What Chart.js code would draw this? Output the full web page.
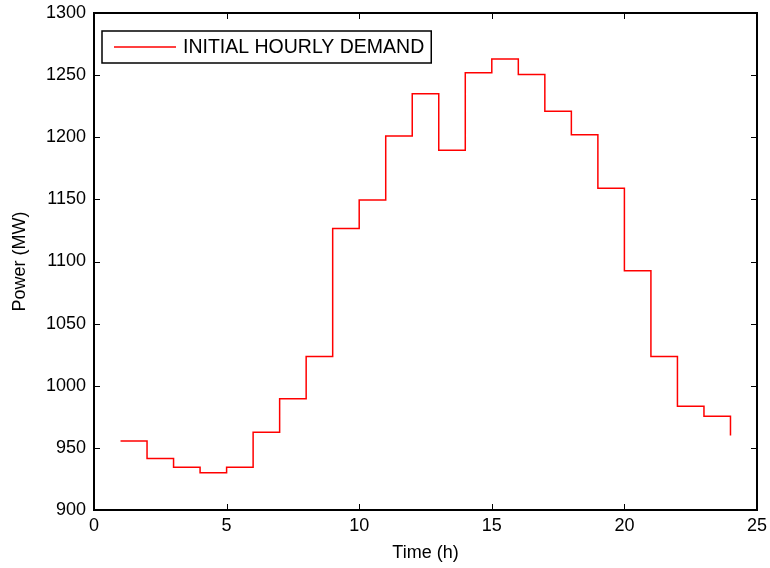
<!DOCTYPE html>
<html>
<head>
<meta charset="utf-8">
<script src="https://cdn.jsdelivr.net/npm/chart.js@4"></script>
<style>
	html, body { margin: 0; padding: 0; background: #fff; }
	canvas { display: block; }
</style>
</head>
<body>
<canvas id="demandChart" width="770" height="568"></canvas>
<script>
// hourly demand (MW)
const hours = [1, 2, 3, 4, 5, 6, 7, 8, 9, 10, 11, 12, 13, 14, 15, 16, 17, 18, 19, 20, 21, 22, 23, 24];
const demand = [955.5, 941.5, 934.5, 930, 934.5, 962.5, 989.5, 1023.5, 1126.5, 1149.5, 1201, 1235, 1189.5, 1252, 1263, 1250.5, 1221, 1202, 1159, 1092.5, 1023.5, 983.5, 975.5, 960];
const seriesLabel = "INITIAL HOURLY DEMAND";
const xTicks = [0, 5, 10, 15, 20, 25];
const yTicks = [900, 950, 1000, 1050, 1100, 1150, 1200, 1250, 1300];

const FONT = "'Liberation Sans', Arial, sans-serif";

// matlab style box with ticks pointing inward on all four sides
const boxPlugin = {
	id: "box",
	afterDraw(chart) {
		const ctx = chart.ctx;
		const { left, right, top, bottom } = chart.chartArea;
		const xs = chart.scales.x;
		const ys = chart.scales.y;
		const len = 6;
		ctx.save();
		ctx.strokeStyle = "#000";
		ctx.lineWidth = 1;
		ctx.beginPath();
		xTicks.forEach((v) => {
			const px = Math.round(xs.getPixelForValue(v)) + 0.5;
			ctx.moveTo(px, bottom);
			ctx.lineTo(px, bottom - len);
			ctx.moveTo(px, top);
			ctx.lineTo(px, top + len);
		});
		yTicks.forEach((v) => {
			const py = Math.round(ys.getPixelForValue(v)) + 0.5;
			ctx.moveTo(left, py);
			ctx.lineTo(left + len, py);
			ctx.moveTo(right, py);
			ctx.lineTo(right - len, py);
		});
		ctx.stroke();
		ctx.lineWidth = 2;
		ctx.strokeRect(left, top, right - left, bottom - top);
		ctx.restore();
	},
};

// legend drawn inside the axes, top-left
const legendPlugin = {
	id: "innerLegend",
	afterDraw(chart) {
		const ctx = chart.ctx;
		const { left, top } = chart.chartArea;
		const ds = chart.data.datasets[0];
		const bx = left + 8;
		const by = top + 18;
		const bh = 32;
		ctx.save();
		ctx.font = "19.5px " + FONT;
		const tw = ctx.measureText(ds.label).width;
		const bw = 81 + tw + 7;
		ctx.fillStyle = "#fff";
		ctx.fillRect(bx, by, bw, bh);
		ctx.strokeStyle = "#000";
		ctx.lineWidth = 1.5;
		ctx.strokeRect(bx, by, bw, bh);
		ctx.strokeStyle = ds.borderColor;
		ctx.lineWidth = 1.5;
		ctx.beginPath();
		ctx.moveTo(bx + 12, by + 16);
		ctx.lineTo(bx + 74, by + 16);
		ctx.stroke();
		ctx.fillStyle = "#000";
		ctx.textBaseline = "middle";
		ctx.fillText(ds.label, bx + 81, by + 17);
		ctx.restore();
	},
};

const points = hours.map((h, i) => ({ x: h, y: demand[i] }));

new Chart(document.getElementById("demandChart"), {
	type: "line",
	data: {
		datasets: [
			{
				label: seriesLabel,
				data: points,
				borderColor: "#ff0000",
				borderWidth: 1.5,
				stepped: true,
				pointRadius: 0,
				fill: false,
			},
		],
	},
	options: {
		responsive: false,
		animation: false,
		devicePixelRatio: 1,
		layout: { padding: { left: 0, right: 13, top: 13, bottom: 0 } },
		plugins: {
			legend: { display: false },
			tooltip: { enabled: false },
		},
		scales: {
			x: {
				type: "linear",
				min: 0,
				max: 25,
				afterBuildTicks: (s) => { s.ticks = xTicks.map((v) => ({ value: v })); },
				afterFit: (s) => {
					s.height = 58;
					s.paddingLeft = 0;
					s.paddingRight = 0;
				},
				grid: { display: false, drawTicks: false },
				border: { display: false },
				ticks: {
					color: "#000",
					font: { family: FONT, size: 18 },
					padding: 5,
					maxRotation: 0,
					callback: (v) => String(v),
				},
				title: {
					display: true,
					text: "Time (h)",
					color: "#000",
					font: { family: FONT, size: 18 },
					padding: { top: 0, bottom: 4 },
				},
			},
			y: {
				type: "linear",
				min: 900,
				max: 1300,
				afterBuildTicks: (s) => { s.ticks = yTicks.map((v) => ({ value: v })); },
				afterFit: (s) => {
					s.width = 94;
					s.paddingTop = 0;
					s.paddingBottom = 0;
				},
				grid: { display: false, drawTicks: false },
				border: { display: false },
				ticks: {
					color: "#000",
					font: { family: FONT, size: 18 },
					padding: 8,
					callback: (v) => String(v),
				},
				title: {
					display: true,
					text: "Power (MW)",
					color: "#000",
					font: { family: FONT, size: 18 },
					padding: { top: 9, bottom: 9 },
				},
			},
		},
	},
	plugins: [boxPlugin, legendPlugin],
});
</script>
</body>
</html>
